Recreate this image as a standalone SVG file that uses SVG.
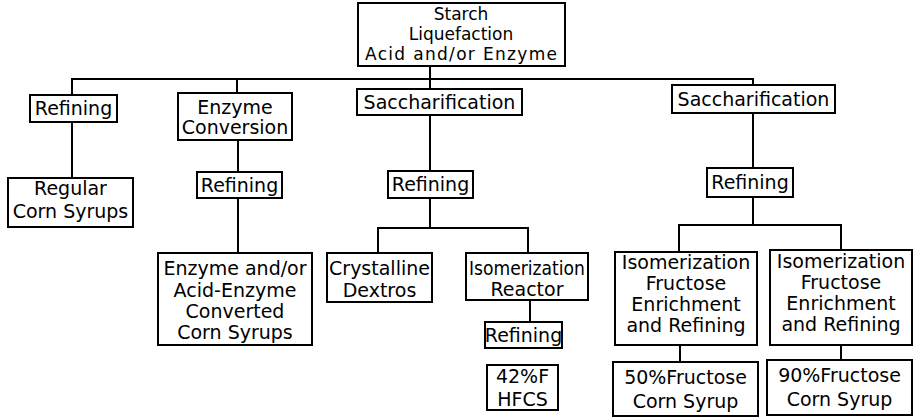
<svg xmlns="http://www.w3.org/2000/svg" width="915" height="418" viewBox="0 0 915 418">
<style>
rect.box{fill:#fff;stroke:#000;stroke-width:2}
text{font-family:"DejaVu Sans","Liberation Sans",sans-serif;font-size:19px;fill:#000;text-anchor:middle}
text.sm{font-size:17px}
#connectors line{stroke:#000;stroke-width:2;stroke-linecap:square}
</style>
<rect width="915" height="418" fill="#fff"/>
<g id="connectors">
<line x1="72" y1="79" x2="753" y2="79"/>
<line x1="430" y1="66" x2="430" y2="79"/>
<line x1="72" y1="79" x2="72" y2="95"/>
<line x1="72" y1="122" x2="72" y2="178"/>
<line x1="237" y1="79" x2="237" y2="93"/>
<line x1="238" y1="140" x2="238" y2="172"/>
<line x1="238" y1="198" x2="238" y2="253"/>
<line x1="430" y1="79" x2="430" y2="89"/>
<line x1="430" y1="115" x2="430" y2="171"/>
<line x1="430" y1="198" x2="430" y2="228"/>
<line x1="378" y1="228" x2="528" y2="228"/>
<line x1="378" y1="228" x2="378" y2="253"/>
<line x1="528" y1="228" x2="528" y2="253"/>
<line x1="530" y1="300" x2="530" y2="322"/>
<line x1="753" y1="79" x2="753" y2="85"/>
<line x1="753" y1="113" x2="753" y2="168"/>
<line x1="753" y1="197" x2="753" y2="225"/>
<line x1="679" y1="225" x2="841" y2="225"/>
<line x1="679" y1="225" x2="679" y2="252"/>
<line x1="841" y1="225" x2="841" y2="250"/>
<line x1="680" y1="345" x2="680" y2="362"/>
<line x1="841" y1="345" x2="841" y2="360"/>
</g>
<g id="starch">
<rect class="box" x="358" y="3" width="207" height="63"/>
<text class="sm" x="461" y="20">Starch</text>
<text class="sm" x="461" y="40">Liquefaction</text>
<text class="sm" x="461" y="60" textLength="192" lengthAdjust="spacing">Acid and/or Enzyme</text>
</g>
<g id="refining1">
<rect class="box" x="30" y="95" width="87" height="27"/>
<text x="73.5" y="115">Refining</text>
</g>
<g id="regular">
<rect class="box" x="8" y="178" width="125" height="49"/>
<text x="70.5" y="195">Regular</text>
<text x="70.5" y="218">Corn Syrups</text>
</g>
<g id="enzconv">
<rect class="box" x="178" y="93" width="114" height="47"/>
<text x="235" y="114">Enzyme</text>
<text x="235" y="134">Conversion</text>
</g>
<g id="refining2">
<rect class="box" x="197" y="172" width="85" height="26"/>
<text x="239.5" y="192">Refining</text>
</g>
<g id="enzconverted">
<rect class="box" x="158" y="253" width="154" height="92"/>
<text x="235" y="275">Enzyme and/or</text>
<text x="235" y="297">Acid-Enzyme</text>
<text x="235" y="318">Converted</text>
<text x="235" y="339">Corn Syrups</text>
</g>
<g id="sacch1">
<rect class="box" x="357" y="89" width="165" height="26"/>
<text x="439.5" y="109">Saccharification</text>
</g>
<g id="refining3">
<rect class="box" x="388" y="171" width="85" height="27"/>
<text x="430.5" y="191">Refining</text>
</g>
<g id="dextros">
<rect class="box" x="327" y="253" width="105" height="49"/>
<text x="379.5" y="275">Crystalline</text>
<text x="379.5" y="297">Dextros</text>
</g>
<g id="isoreactor">
<rect class="box" x="466" y="253" width="122" height="47"/>
<text x="527" y="275" textLength="116" lengthAdjust="spacingAndGlyphs">Isomerization</text>
<text x="527" y="296">Reactor</text>
</g>
<g id="refining4">
<rect class="box" x="485" y="322" width="77" height="26"/>
<text x="523.5" y="342">Refining</text>
</g>
<g id="hfcs42">
<rect class="box" x="487" y="365" width="71" height="45"/>
<text x="522.5" y="383">42%F</text>
<text x="522.5" y="406">HFCS</text>
</g>
<g id="sacch2">
<rect class="box" x="672" y="85" width="163" height="28"/>
<text x="753.5" y="106">Saccharification</text>
</g>
<g id="refining5">
<rect class="box" x="707" y="168" width="86" height="29"/>
<text x="750" y="189">Refining</text>
</g>
<g id="isoL">
<rect class="box" x="615" y="252" width="142" height="93"/>
<text x="686" y="269">Isomerization</text>
<text x="686" y="290">Fructose</text>
<text x="686" y="311">Enrichment</text>
<text x="686" y="332">and Refining</text>
</g>
<g id="isoR">
<rect class="box" x="770" y="250" width="142" height="95"/>
<text x="841" y="268">Isomerization</text>
<text x="841" y="289">Fructose</text>
<text x="841" y="310">Enrichment</text>
<text x="841" y="331">and Refining</text>
</g>
<g id="f50">
<rect class="box" x="613" y="362" width="145" height="54"/>
<text x="685.5" y="384">50%Fructose</text>
<text x="685.5" y="408">Corn Syrup</text>
</g>
<g id="f90">
<rect class="box" x="767" y="360" width="145" height="55"/>
<text x="839.5" y="382">90%Fructose</text>
<text x="839.5" y="406">Corn Syrup</text>
</g>
</svg>
